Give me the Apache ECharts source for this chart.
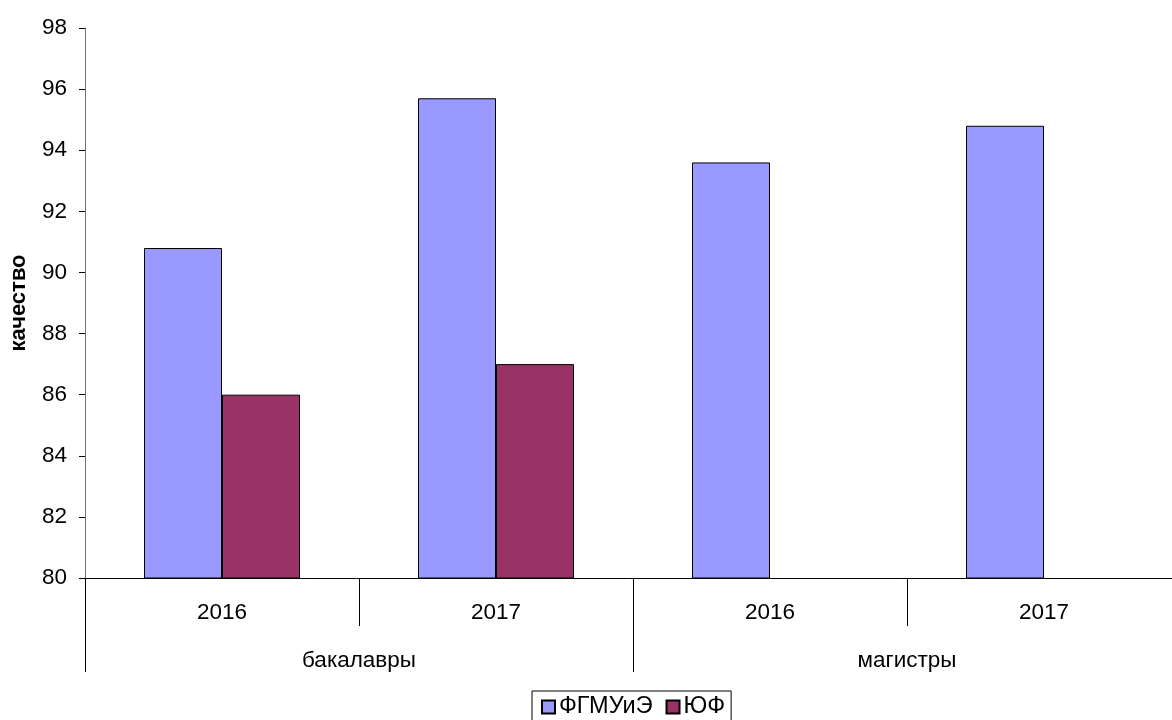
<!DOCTYPE html>
<html>
<head>
<meta charset="utf-8">
<script src="https://cdn.jsdelivr.net/npm/echarts@6/dist/echarts.min.js"></script>
<style>
html,body{margin:0;padding:0;background:#fff;}
#chart{width:1172px;height:720px;}
</style>
</head>
<body>
<div id="chart"></div>
<script>
const years = ['2016', '2017', '2016', '2017'];
const groups = ['бакалавры', 'магистры'];
const seriesNames = ['ФГМУиЭ', 'ЮФ'];
const fgmuieValues = [90.8, 95.7, 93.6, 94.8];
const yufValues = [86, 87, null, null];
const yTicks = { min: 80, max: 98, interval: 2 };

const FONT = 'Liberation Sans, Arial, sans-serif';
const chart = echarts.init(document.getElementById('chart'));
chart.setOption({
  animation: false,
  backgroundColor: '#ffffff',
  textStyle: { fontFamily: FONT, color: '#000' },
  grid: { left: 85, right: -9, top: 28, bottom: 142, containLabel: false, outerBoundsMode: 'none' },
  legend: {
    data: seriesNames,
    left: 532, top: 691,
    padding: [4, 6, 10, 9],
    itemGap: 13,
    itemWidth: 13, itemHeight: 13,
    icon: 'rect',
    borderColor: '#000', borderWidth: 1,
    textStyle: { fontFamily: FONT, fontSize: 23.5, color: '#000', padding: [0, 0, 0, -1] }
  },
  xAxis: [
    {
      type: 'category', data: years, position: 'bottom',
      axisLine: { show: true, lineStyle: { color: '#000', width: 1 } },
      axisTick: { show: true, alignWithLabel: false, interval: 0, length: 48, lineStyle: { color: '#000' } },
      axisLabel: { interval: 0, margin: 23, fontSize: 22.5, color: '#000', fontFamily: FONT },
      splitLine: { show: false }
    },
    {
      type: 'category', data: groups, position: 'bottom',
      axisLine: { show: false },
      axisTick: { show: true, alignWithLabel: false, interval: 0, length: 94, lineStyle: { color: '#000' } },
      axisLabel: { interval: 0, margin: 71, fontSize: 22.5, color: '#000', fontFamily: FONT },
      splitLine: { show: false }
    }
  ],
  yAxis: {
    type: 'value', min: yTicks.min, max: yTicks.max, interval: yTicks.interval,
    name: 'качество', nameLocation: 'middle', nameGap: 55, nameRotate: 90,
    nameTextStyle: { fontFamily: FONT, fontSize: 22, fontWeight: 'bold', color: '#000' },
    axisLine: { show: true, lineStyle: { color: '#707070', width: 1 } },
    axisTick: { show: true, length: 6, lineStyle: { color: '#000' } },
    axisLabel: { margin: 18, fontSize: 22.5, color: '#000', fontFamily: FONT },
    splitLine: { show: false }
  },
  series: [
    {
      name: seriesNames[0], type: 'bar', xAxisIndex: 0, data: fgmuieValues,
      barWidth: 78, barGap: '0%',
      itemStyle: { color: '#9999FF', borderColor: '#000', borderWidth: 1 }
    },
    {
      name: seriesNames[1], type: 'bar', xAxisIndex: 0, data: yufValues,
      barWidth: 78, barGap: '0%',
      itemStyle: { color: '#993366', borderColor: '#000', borderWidth: 1 }
    }
  ]
});
</script>
</body>
</html>
